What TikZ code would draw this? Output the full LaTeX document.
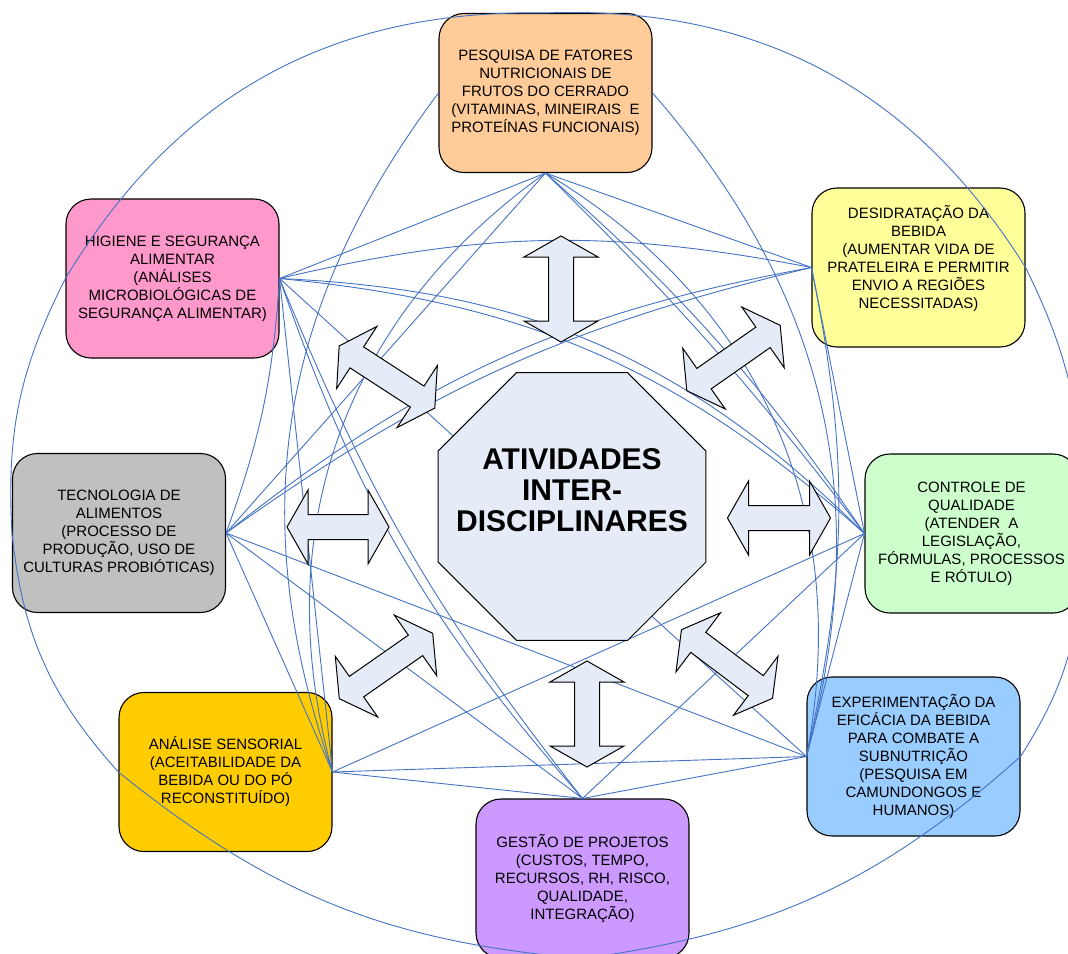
\documentclass[tikz,border=0pt]{standalone}
\usepackage{fontspec}
\setmainfont{Liberation Sans}
\usetikzlibrary{shapes.geometric}

\definecolor{linkblue}{RGB}{68,114,196}
\definecolor{corefill}{RGB}{230,236,247}
\definecolor{pfill}{RGB}{255,204,153}
\definecolor{dfill}{RGB}{255,255,153}
\definecolor{cfill}{RGB}{204,255,204}
\definecolor{efill}{RGB}{153,204,255}
\definecolor{gfill}{RGB}{204,153,255}
\definecolor{afill}{RGB}{255,204,0}
\definecolor{tfill}{RGB}{192,192,192}
\definecolor{hfill}{RGB}{255,153,204}

\tikzset{
  box/.style={draw=black, line width=1.1pt, rounded corners=25pt,
    minimum width=213pt, minimum height=159pt, inner sep=0pt},
  boxtext/.style={align=center, inner sep=0pt,
    font=\fontsize{15}{18}\selectfont},
  coretext/.style={align=center, inner sep=0pt,
    font=\fontsize{30}{31}\selectfont\bfseries},
  octagon/.style={regular polygon, regular polygon sides=8,
    minimum size=290pt, inner sep=0pt, draw=black, line width=1pt, fill=corefill},
  link/.style={draw=linkblue, line width=0.9pt},
  arrowshape/.style={draw=black, fill=corefill, line width=1pt, line join=miter},
  pics/dblarrow/.style={code={
    \path[arrowshape] (-#1,0) -- (-#1+21,37) -- (-#1+21,12.5) -- (#1-21,12.5)
      -- (#1-21,37) -- (#1,0) -- (#1-21,-37) -- (#1-21,-12.5)
      -- (-#1+21,-12.5) -- (-#1+21,-37) -- cycle;}}
}

\begin{document}
\begin{tikzpicture}[x=1pt, y=-1pt]
\useasboundingbox (0,0) rectangle (1068,953);

% the eight activity boxes
\node[box, fill=pfill] (p) at (545.5,93) {};
\node[box, fill=dfill] (d) at (918.5,267.5) {};
\node[box, fill=cfill] (c) at (971.5,533.5) {};
\node[box, fill=efill] (e) at (913.5,756.5) {};
\node[box, fill=gfill] (g) at (582.5,878.5) {};
\node[box, fill=afill] (a) at (225.5,772) {};
\node[box, fill=tfill] (t) at (119,533) {};
\node[box, fill=hfill] (h) at (172.5,278.5) {};

\node[boxtext] (ptxt) at (p.center) {PESQUISA DE FATORES\\NUTRICIONAIS DE\\FRUTOS DO CERRADO\\(VITAMINAS, MINEIRAIS~~E\\PROTEÍNAS FUNCIONAIS)};
\node[boxtext] (dtxt) at ([yshift=9pt]d.center) {DESIDRATAÇÃO DA\\BEBIDA\\(AUMENTAR VIDA DE\\PRATELEIRA E PERMITIR\\ENVIO A REGIÕES\\NECESSITADAS)};
\node[boxtext] (ctxt) at (c.center) {CONTROLE DE\\QUALIDADE\\(ATENDER~~A\\LEGISLAÇÃO,\\FÓRMULAS, PROCESSOS\\E RÓTULO)};
\node[boxtext] (etxt) at (e.center) {EXPERIMENTAÇÃO DA\\EFICÁCIA DA BEBIDA\\PARA COMBATE A\\SUBNUTRIÇÃO\\(PESQUISA EM\\CAMUNDONGOS E\\HUMANOS)};
\node[boxtext] (gtxt) at (g.center) {GESTÃO DE PROJETOS\\(CUSTOS, TEMPO,\\RECURSOS, RH, RISCO,\\QUALIDADE,\\INTEGRAÇÃO)};
\node[boxtext] (atxt) at (a.center) {ANÁLISE SENSORIAL\\(ACEITABILIDADE DA\\BEBIDA OU DO PÓ\\RECONSTITUÍDO)};
\node[boxtext] (ttxt) at (t.center) {TECNOLOGIA DE\\ALIMENTOS\\(PROCESSO DE\\PRODUÇÃO, USO DE\\CULTURAS PROBIÓTICAS)};
\node[boxtext] (htxt) at (h.center) {HIGIENE E SEGURANÇA\\ALIMENTAR\\(ANÁLISES\\MICROBIOLÓGICAS DE\\SEGURANÇA ALIMENTAR)};

% outer ring of curved links
\draw[link] (h.west) to[bend left=30] (p.north);
\draw[link] (p.north) to[bend left=30] (d.east);
\draw[link] (d.east) to[bend left=15] (c.east);
\draw[link] (c.east) to[bend left=18] (e.east);
\draw[link] (e.east) to[bend left=17] (g.south);
\draw[link] (g.south) to[bend left=17] (a.west);
\draw[link] (a.west) to[bend left=18] (t.west);
\draw[link] (t.west) to[bend left=15] (h.west);

% inner web of links
\draw[link] (p.south) -- (h.east);
\draw[link] (p.south) -- (t.east);
\draw[link] (p.south) -- (d.west);
\draw[link] (p.south) to[bend left=4] (c.west);
\draw[link] (p.south) to[bend left=7] (c.west);
\draw[link] (p.south) to[bend right=35] (a.east);
\draw[link] (p.south) to[bend left=35] (e.west);
\draw[link] (p.west) to[bend right=28] (a.east);
\draw[link] (p.east) to[bend left=28] (e.west);
\draw[link] (h.east) to[bend left=12] (d.west);
\draw[link] (h.east) to[bend left=18] (c.west);
\draw[link] (h.east) to[bend left=21] (c.west);
\draw[link] (h.east) -- (e.west);
\draw[link] (h.east) to[bend right=8] (g.north);
\draw[link] (h.east) to[bend right=11] (g.north);
\draw[link] (h.east) -- (a.east);
\draw[link] (h.east) to[bend left=8] (t.east);
\draw[link] (t.east) to[bend left=11] (d.west);
\draw[link] (t.east) to[bend left=14] (d.west);
\draw[link] (t.east) -- (e.west);
\draw[link] (t.east) -- (g.north);
\draw[link] (t.east) -- (a.east);
\draw[link] (a.east) -- (c.west);
\draw[link] (a.east) -- (e.west);
\draw[link] (a.east) -- (g.north);
\draw[link] (g.north) -- (c.west);
\draw[link] (g.north) -- (e.west);
\draw[link] (e.west) -- (c.west);
\draw[link] (c.west) -- (d.west);
\draw[link] (e.west) to[bend right=12] (d.west);

% block arrows around the centre
\pic[rotate=90]  at (561,289) {dblarrow=53};
\pic[rotate=35]  at (733.5,358) {dblarrow=57};
\pic             at (779,518) {dblarrow=51.5};
\pic[rotate=-37] at (727,664) {dblarrow=57};
\pic[rotate=90]  at (587,714) {dblarrow=53};
\pic[rotate=35]  at (386,666) {dblarrow=57};
\pic             at (338,527) {dblarrow=51};
\pic[rotate=-33] at (387,377) {dblarrow=57};

% central octagon
\node[octagon] (core) at (572,506.5) {};
\node[coretext] (coretitle) at (572,490) {ATIVIDADES\\INTER-\\DISCIPLINARES};
\end{tikzpicture}
\end{document}
